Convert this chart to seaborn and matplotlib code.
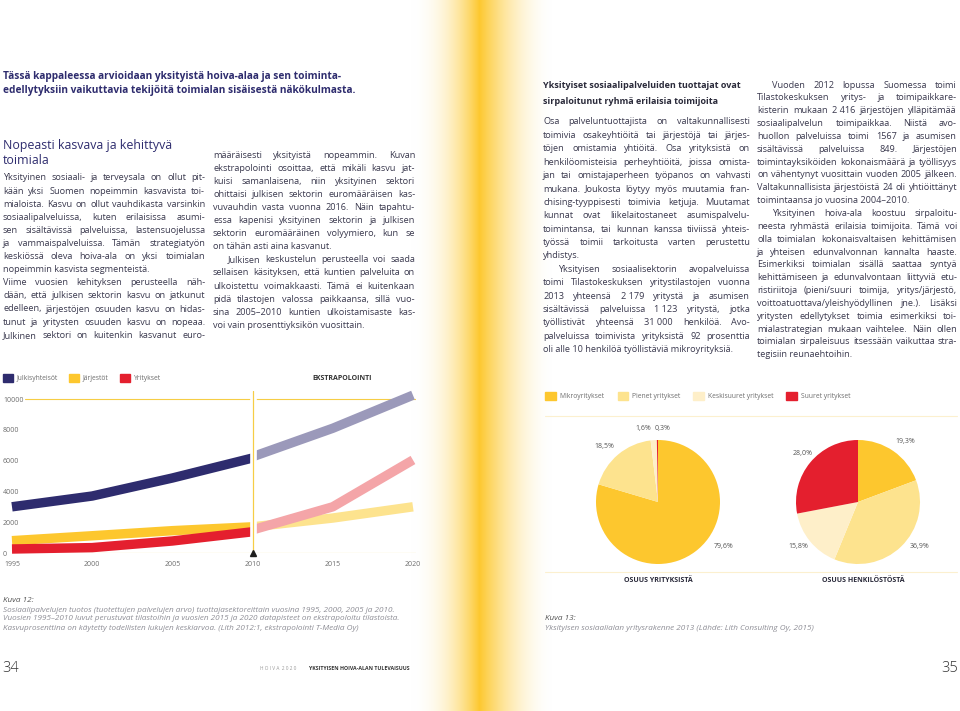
import numpy as np
import matplotlib
matplotlib.use("Agg")
import matplotlib.pyplot as plt
import matplotlib.patheffects as pe
from matplotlib.patches import Patch
from matplotlib.lines import Line2D
import seaborn as sns

# ── Page geometry (pixels, y measured from the top) ─────────────────────────
W, H = 960, 711


def fx(x):
    return x / W


def fy(y):
    return 1 - y / H


# ── Colours ─────────────────────────────────────────────────────────────────
NAVY, NAVY_X = "#2e2c6e", "#9b99ba"
GOLD, GOLD_X = "#fdc72e", "#fde38e"
RED, RED_X = "#e41f2e", "#f4a5a8"
PALE = "#feefc9"
GRID = "#f6cd45"
BODY = "#3a394e"
GREY = "#6d6d6d"
CAPTION = "#8e8e96"

# ── Line chart data (Kuva 12) ───────────────────────────────────────────────
YEARS_HIST = [1995, 2000, 2005, 2010]
YEARS_EXTRA = [2010, 2015, 2020]
JULKISET_HIST = [3000, 3700, 4870, 6170]
JULKISET_EXTRA = [6250, 8100, 10250]
JARJESTOT_HIST = [800, 1120, 1450, 1700]
JARJESTOT_EXTRA = [1700, 2270, 3000]
YRITYKSET_HIST = [260, 350, 780, 1380]
YRITYKSET_EXTRA = [1500, 3000, 6040]
SPLIT_YEAR = 2010
LINE_LABELS = ["Julkisyhteisöt", "Järjestöt", "Yritykset"]
X_TICKS = [1995, 2000, 2005, 2010, 2015, 2020]
Y_TICKS = [0, 2000, 4000, 6000, 8000, 10000]

# ── Pie data (Kuva 13) ──────────────────────────────────────────────────────
SIZE_LABELS = ["Mikroyritykset", "Pienet yritykset", "Keskisuuret yritykset", "Suuret yritykset"]
SHARE_FIRMS = [79.6, 18.5, 1.6, 0.3]
SHARE_STAFF = [19.3, 36.9, 15.8, 28.0]
PIE_TITLES = ["OSUUS YRITYKSISTÄ", "OSUUS HENKILÖSTÖSTÄ"]

# ── Page text ───────────────────────────────────────────────────────────────
INTRO = [
    "Tässä kappaleessa arvioidaan yksityistä hoiva-alaa ja sen toiminta-",
    "edellytyksiin vaikuttavia tekijöitä toimialan sisäisestä näkökulmasta.",
]
HEADING = ["Nopeasti kasvava ja kehittyvä", "toimiala"]
SUBHEAD = [
    "Yksityiset sosiaalipalveluiden tuottajat ovat",
    "sirpaloitunut ryhmä erilaisia toimijoita",
]
# "\t" = indented first line, "\n" = paragraph end (not justified)
COL1 = [
    "Yksityinen sosiaali- ja terveysala on ollut pit-",
    "kään yksi Suomen nopeimmin kasvavista toi-",
    "mialoista. Kasvu on ollut vauhdikasta varsinkin",
    "sosiaalipalveluissa, kuten erilaisissa asumi-",
    "sen sisältävissä palveluissa, lastensuojelussa",
    "ja vammaispalveluissa. Tämän strategiatyön",
    "keskiössä oleva hoiva-ala on yksi toimialan",
    "nopeimmin kasvista segmenteistä.\n",
    "Viime vuosien kehityksen perusteella näh-",
    "dään, että julkisen sektorin kasvu on jatkunut",
    "edelleen, järjestöjen osuuden kasvu on hidas-",
    "tunut ja yritysten osuuden kasvu on nopeaa.",
    "Julkinen sektori on kuitenkin kasvanut euro-",
]
COL2 = [
    "määräisesti yksityistä nopeammin. Kuvan",
    "ekstrapolointi osoittaa, että mikäli kasvu jat-",
    "kuisi samanlaisena, niin yksityinen sektori",
    "ohittaisi julkisen sektorin euromääräisen kas-",
    "vuvauhdin vasta vuonna 2016. Näin tapahtu-",
    "essa kapenisi yksityinen sektorin ja julkisen",
    "sektorin euromääräinen volyymiero, kun se",
    "on tähän asti aina kasvanut.\n",
    "\tJulkisen keskustelun perusteella voi saada",
    "sellaisen käsityksen, että kuntien palveluita on",
    "ulkoistettu voimakkaasti. Tämä ei kuitenkaan",
    "pidä tilastojen valossa paikkaansa, sillä vuo-",
    "sina 2005–2010 kuntien ulkoistamisaste kas-",
    "voi vain prosenttiyksikön vuosittain.\n",
]
COL3 = [
    "Osa palveluntuottajista on valtakunnallisesti",
    "toimivia osakeyhtiöitä tai järjestöjä tai järjes-",
    "töjen omistamia yhtiöitä. Osa yrityksistä on",
    "henkilöomisteisia perheyhtiöitä, joissa omista-",
    "jan tai omistajaperheen työpanos on vahvasti",
    "mukana. Joukosta löytyy myös muutamia fran-",
    "chising-tyyppisesti toimivia ketjuja. Muutamat",
    "kunnat ovat liikelaitostaneet asumispalvelu-",
    "toimintansa, tai kunnan kanssa tiiviissä yhteis-",
    "työssä toimii tarkoitusta varten perustettu",
    "yhdistys.\n",
    "\tYksityisen sosiaalisektorin avopalveluissa",
    "toimi Tilastokeskuksen yritystilastojen vuonna",
    "2013 yhteensä 2\u00a0179 yritystä ja asumisen",
    "sisältävissä palveluissa 1\u00a0123 yritystä, jotka",
    "työllistivät yhteensä 31\u00a0000 henkilöä. Avo-",
    "palveluissa toimivista yrityksistä 92 prosenttia",
    "oli alle 10 henkilöä työllistäviä mikroyrityksiä.\n",
]
COL4 = [
    "\tVuoden 2012 lopussa Suomessa toimi",
    "Tilastokeskuksen yritys- ja toimipaikkare-",
    "kisterin mukaan 2\u00a0416 järjestöjen ylläpitämää",
    "sosiaalipalvelun toimipaikkaa. Niistä avo-",
    "huollon palveluissa toimi 1567 ja asumisen",
    "sisältävissä palveluissa 849. Järjestöjen",
    "toimintayksiköiden kokonaismäärä ja työllisyys",
    "on vähentynyt vuosittain vuoden 2005 jälkeen.",
    "Valtakunnallisista järjestöistä 24 oli yhtiöittänyt",
    "toimintaansa jo vuosina 2004–2010.\n",
    "\tYksityinen hoiva-ala koostuu sirpaloitu-",
    "neesta ryhmästä erilaisia toimijoita. Tämä voi",
    "olla toimialan kokonaisvaltaisen kehittämisen",
    "ja yhteisen edunvalvonnan kannalta haaste.",
    "Esimerkiksi toimialan sisällä saattaa syntyä",
    "kehittämiseen ja edunvalvontaan liittyviä etu-",
    "ristiriitoja (pieni/suuri toimija, yritys/järjestö,",
    "voittoatuottava/yleishyödyllinen jne.). Lisäksi",
    "yritysten edellytykset toimia esimerkiksi toi-",
    "mialastrategian mukaan vaihtelee. Näin ollen",
    "toimialan sirpaleisuus itsessään vaikuttaa stra-",
    "tegisiin reunaehtoihin.\n",
]
CAPTION12 = [
    "Sosiaalipalvelujen tuotos (tuotettujen palvelujen arvo) tuottajasektoreittain vuosina 1995, 2000, 2005 ja 2010.",
    "Vuosien 1995–2010 luvut perustuvat tilastoihin ja vuosien 2015 ja 2020 datapisteet on ekstrapoloitu tilastoista.",
    "Kasvuprosenttina on käytetty todellisten lukujen keskiarvoa. (Lith 2012:1, ekstrapolointi T-Media Oy)",
]
CAPTION13 = ["Yksityisen sosiaalialan yritysrakenne 2013 (Lähde: Lith Consulting Oy, 2015)"]

sns.set_theme(style="white")
plt.rcParams["font.family"] = ["Open Sans", "DejaVu Sans"]

fig = plt.figure(figsize=(W / 100, H / 100), dpi=100)
fig.patch.set_facecolor("white")

# ── Gutter gradient ─────────────────────────────────────────────────────────
px = np.arange(W)
alpha = np.zeros(W)
left = (px >= 410) & (px <= 479)
right = (px > 479) & (px <= 552)
alpha[left] = ((px[left] - 410) / 69) ** 2.2
alpha[right] = (1 - (px[right] - 479) / 73) ** 1.8
gold_rgb = np.array(matplotlib.colors.to_rgb("#fdc82f"))
grad = 1 - alpha[:, None] * (1 - gold_rgb[None, :])
bg = fig.add_axes([0, 0, 1, 1], zorder=-10)
bg.imshow(grad[None, :, :], aspect="auto", extent=(0, W, 0, 1))
bg.axis("off")

renderer = fig.canvas.get_renderer()
INDENT = 15


def text_block(lines, x0, x1, y0, dy, size=6.6, color=BODY, weight="normal"):
    """Justified column; last line of a paragraph is left aligned."""
    for i, raw in enumerate(lines):
        indent = INDENT if raw.startswith("\t") else 0
        last = raw.endswith("\n")
        words = raw.strip().split(" ")
        y = fy(y0 + i * dy)
        start = x0 + indent
        kw = dict(fontsize=size, color=color, weight=weight, va="center")
        if last or len(words) == 1:
            fig.text(fx(start), y, " ".join(words), **kw)
            continue
        texts = [fig.text(0, y, w, **kw) for w in words]
        widths = [t.get_window_extent(renderer).width for t in texts]
        gap = (x1 - start - sum(widths)) / (len(words) - 1)
        pos = start
        for t, w in zip(texts, widths):
            t.set_x(fx(pos))
            pos += w + gap


def plain_lines(lines, x, y0, dy, **kw):
    for i, line in enumerate(lines):
        fig.text(fx(x), fy(y0 + i * dy), line, va="center", **kw)


# ── Left page text ──────────────────────────────────────────────────────────
plain_lines(INTRO, 3, 77, 14, fontsize=7.25, weight="bold", color=NAVY)
plain_lines(HEADING, 3, 146, 14.5, fontsize=8.9, color=NAVY)
text_block(COL1, 3, 205, 178, 13.1)
text_block(COL2, 213, 415, 155, 13.1)

# ── Right page text ─────────────────────────────────────────────────────────
plain_lines(SUBHEAD, 543, 85, 16.5, fontsize=6.5, weight="bold", color="#2a2a3a")
text_block(COL3, 543, 750, 122, 13.4)
text_block(COL4, 757, 957, 85, 12.85)

# ── Line chart ──────────────────────────────────────────────────────────────
ax = fig.add_axes([fx(3), fy(553), (416 - 3) / W, (553 - 391) / H])
ax.set_facecolor("none")
series = [
    (JULKISET_HIST, JULKISET_EXTRA, NAVY, NAVY_X),
    (JARJESTOT_HIST, JARJESTOT_EXTRA, GOLD, GOLD_X),
    (YRITYKSET_HIST, YRITYKSET_EXTRA, RED, RED_X),
]
for hist, extra, c_hist, c_extra in series:
    for xs, ys, c in [(YEARS_HIST, hist, c_hist), (YEARS_EXTRA, extra, c_extra)]:
        sns.lineplot(x=xs, y=ys, color=c, lw=6.8, ax=ax, clip_on=False, zorder=3,
                     solid_capstyle="butt", solid_joinstyle="round")

ax.set_xlim(1994.44, 2020.19)
ax.set_ylim(0, 10520)
g0 = (25 - 3) / (416 - 3)
ax.axhline(10000, xmin=g0, color=GRID, lw=0.8, zorder=1)
ax.axhline(0, xmin=g0, color=GRID, lw=0.8, zorder=1)
ax.axvline(SPLIT_YEAR, color=GRID, lw=0.8, zorder=4,
           path_effects=[pe.withStroke(linewidth=4.8, foreground="white"), pe.Normal()])
ax.plot([SPLIT_YEAR], [0], marker="^", ms=4.5, color="#1e1e1e", clip_on=False, zorder=5)

ax.set_xticks(X_TICKS, labels=[str(y) for y in X_TICKS])
ax.set_yticks(Y_TICKS, labels=[str(v) for v in Y_TICKS])
ax.tick_params(axis="both", length=0, labelsize=5.0, labelcolor=GREY)
ax.tick_params(axis="y", pad=0)
ax.tick_params(axis="x", pad=6)
for t in ax.get_yticklabels():
    t.set_horizontalalignment("left")
ax.set_xlabel("")
ax.set_ylabel("")
for s in ax.spines.values():
    s.set_visible(False)

fig.legend(handles=[Patch(color=c) for c in (NAVY, GOLD, RED)], labels=LINE_LABELS,
           loc="center left", bbox_to_anchor=(fx(3), fy(378)), ncol=3, frameon=False,
           fontsize=4.9, labelcolor=GREY, handlelength=1.45, handleheight=1.5,
           handletextpad=0.6, columnspacing=1.6, borderpad=0, borderaxespad=0)
fig.text(fx(342), fy(379), "EKSTRAPOLOINTI", fontsize=5.0, weight="bold",
         color="#333333", ha="center", va="center")

# ── Pie charts ──────────────────────────────────────────────────────────────
PIE_R = 62
pie_colors = [GOLD, GOLD_X, PALE, RED]
label_xy = [
    [(1.05, -0.71), (-0.87, 0.89), (-0.23, 1.18), (0.08, 1.18)],
    [(0.76, 0.97), (1.0, -0.71), (-0.97, -0.71), (-0.9, 0.79)],
]
for k, (shares, cx, title) in enumerate(zip([SHARE_FIRMS, SHARE_STAFF], [658, 858], PIE_TITLES)):
    half = 1.25 * PIE_R
    pax = fig.add_axes([fx(cx - half), fy(502 + half), 2 * half / W, 2 * half / H])
    pax.set_facecolor("none")
    labels = [f"{v:.1f}%".replace(".", ",") for v in shares]
    wedges, texts = pax.pie(shares, colors=pie_colors, startangle=90, counterclock=False,
                            labels=labels, labeldistance=1.2,
                            wedgeprops=dict(linewidth=0),
                            textprops=dict(fontsize=5.0, color="#555555"))
    for t, xy in zip(texts, label_xy[k]):
        t.set_position(xy)
        t.set_ha("center")
        t.set_va("center")
    fig.text(fx(cx + (5 if k else 0)), fy(581), title, fontsize=5.0, weight="bold",
             color="#2a2a3a", ha="center", va="center")

fig.legend(handles=[Patch(color=c) for c in pie_colors], labels=SIZE_LABELS,
           loc="center left", bbox_to_anchor=(fx(545), fy(396)), ncol=4, frameon=False,
           fontsize=4.9, labelcolor=GREY, handlelength=1.55, handleheight=1.45,
           handletextpad=0.6, columnspacing=1.9, borderpad=0, borderaxespad=0)
for yy in (416, 572):
    fig.add_artist(Line2D([fx(545), fx(957)], [fy(yy), fy(yy)], color="#fcf0cf",
                          lw=0.8, transform=fig.transFigure))

# ── Captions and footers ────────────────────────────────────────────────────
fig.text(fx(3), fy(601), "Kuva 12:", fontsize=5.85, style="italic", color="#555555", va="center")
plain_lines(CAPTION12, 3, 610, 9, fontsize=5.85, style="italic", color=CAPTION)
fig.text(fx(545), fy(619), "Kuva 13:", fontsize=5.85, style="italic", color="#555555", va="center")
plain_lines(CAPTION13, 545, 628, 9, fontsize=5.85, style="italic", color=CAPTION)

fig.text(fx(2), fy(668), "34", fontsize=10.5, color="#333333", va="center", weight="light")
fig.text(fx(958), fy(668), "35", fontsize=10.5, color="#333333", va="center", ha="right", weight="light")
fig.text(fx(260), fy(669), "H O I V A  2 0 2 0", fontsize=3.4, color="#9a9a9a", va="center")
fig.text(fx(309), fy(669), "YKSITYISEN HOIVA-ALAN TULEVAISUUS", fontsize=3.8, weight="bold",
         color="#333333", va="center")

fig.savefig("out.png", dpi=100)
